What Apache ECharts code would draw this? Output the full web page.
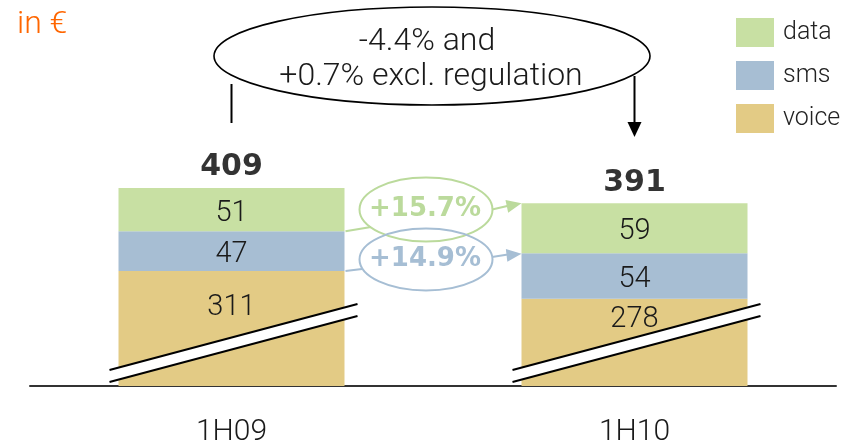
<!DOCTYPE html>
<html><head><meta charset="utf-8">
<script src="https://cdn.jsdelivr.net/npm/echarts@6/dist/echarts.min.js"></script>
<style>html,body{margin:0;padding:0;background:#fff}#c{width:850px;height:442px}</style>
</head><body><div id="c"></div>
<script>
// ---- data ----
const categories = ['1H09', '1H10'];
const voice = [311, 278];
const sms = [47, 54];
const dataRev = [51, 59];
const legendNames = ['data', 'sms', 'voice'];
const totals = categories.map((_, i) => voice[i] + sms[i] + dataRev[i]);
const totalChangeText = ['-4.4% and', '+0.7% excl. regulation'];
const dataChangeText = '+15.7%';
const smsChangeText = '+14.9%';
const unitText = 'in €';

// ---- styles ----
const FONT = 'Roboto';
const LIGHT = 300;
const TXT = '#1a1a1a';
const COL = { data: '#C8E0A3', sms: '#A7BED3', voice: '#E3CB85' };
const GREEN_ANN = '#BBDA9C';
const BLUE_ANN = '#A6BED4';
const Y_MIN = 175, Y_MAX = 500;
const BAR_W = 226;
const voiceLabelDistance = [22, 6];

const chart = echarts.init(document.getElementById('c'), null, { renderer: 'canvas' });

const segLabel = (pos, off) => ({
  show: true, position: pos, offset: off, fontFamily: FONT, fontWeight: LIGHT, fontSize: 29, color: TXT
});

chart.setOption({
  animation: false,
  title: {
    text: unitText, left: 17, top: 9, padding: 0,
    textStyle: { color: '#FF6600', fontFamily: FONT, fontWeight: LIGHT, fontSize: 32 }
  },
  legend: {
    data: legendNames, orient: 'vertical', left: 731, top: 13,
    itemWidth: 38, itemHeight: 29, itemGap: 14, icon: 'rect', selectedMode: false,
    textStyle: { fontFamily: FONT, fontWeight: LIGHT, fontSize: 25, color: '#222', padding: [0, 0, 0, 4] }
  },
  grid: { left: 30, right: 14, top: 111, bottom: 56, containLabel: false, outerBoundsMode: 'none' },
  xAxis: {
    type: 'category', data: categories,
    axisLine: { lineStyle: { color: '#333', width: 2 } },
    axisTick: { show: false },
    axisLabel: { margin: 31, fontFamily: FONT, fontWeight: LIGHT, fontSize: 30, color: TXT }
  },
  yAxis: { type: 'value', min: Y_MIN, max: Y_MAX, show: false, splitLine: { show: false } },
  series: [
    {
      name: 'voice', type: 'bar', stack: 'rev', barWidth: BAR_W,
      itemStyle: { color: COL.voice },
      label: segLabel('insideTop', [0, 0]),
      data: voice.map((v, i) => ({ value: v, label: { distance: voiceLabelDistance[i] } }))
    },
    {
      name: 'sms', type: 'bar', stack: 'rev', barWidth: BAR_W,
      itemStyle: { color: COL.sms }, label: segLabel('inside', [0, 4]), data: sms
    },
    {
      name: 'data', type: 'bar', stack: 'rev', barWidth: BAR_W,
      itemStyle: { color: COL.data }, label: segLabel('inside', [0, 4]), data: dataRev
    },
    {
      name: 'total', type: 'scatter', symbolSize: 1,
      itemStyle: { color: 'rgba(0,0,0,0)' },
      label: {
        show: true, position: 'top', distance: 5,
        fontFamily: 'DejaVu Sans', fontWeight: 'bold', fontSize: 30, color: '#000'
      },
      data: totals
    }
  ]
});

// ---- annotations anchored on the chart's own scales ----
function px(i, v) { return chart.convertToPixel({ xAxisIndex: 0, yAxisIndex: 0 }, [i, v]); }
function arrowHead(tip, from, len, wid, color) {
  const dx = tip[0] - from[0], dy = tip[1] - from[1];
  const d = Math.hypot(dx, dy), ux = dx / d, uy = dy / d;
  const bx = tip[0] - ux * len, by = tip[1] - uy * len;
  return {
    type: 'polygon', z: 100,
    shape: { points: [tip, [bx - uy * wid / 2, by + ux * wid / 2], [bx + uy * wid / 2, by - ux * wid / 2]] },
    style: { fill: color }
  };
}
function line(a, b, color, w) {
  return { type: 'line', z: 100, shape: { x1: a[0], y1: a[1], x2: b[0], y2: b[1] }, style: { stroke: color, lineWidth: w } };
}

const top0 = px(0, totals[0]), top1 = px(1, totals[1]);
const base0 = px(0, Y_MIN), base1 = px(1, Y_MIN);
const half = BAR_W / 2;
const g = [];

// big ellipse
const bigCx = (top0[0] + top1[0]) / 2 - 1;
g.push({ type: 'ellipse', z: 100, shape: { cx: bigCx, cy: 56, rx: 218, ry: 49 }, style: { fill: 'none', stroke: '#000', lineWidth: 1.6 } });
g.push({ type: 'text', z: 101, style: { text: totalChangeText[0], x: bigCx - 5, y: 42, align: 'center', verticalAlign: 'middle', font: LIGHT + ' 32px ' + FONT, fill: TXT } });
g.push({ type: 'text', z: 101, style: { text: totalChangeText[1], x: bigCx - 1, y: 77, align: 'center', verticalAlign: 'middle', font: LIGHT + ' 32px ' + FONT, fill: TXT } });
g.push(line([top0[0], 84], [top0[0], 123], '#000', 2));
g.push(line([top1[0], 76], [top1[0], 126], '#000', 2));
g.push(arrowHead([top1[0], 137], [top1[0], 76], 15, 14, '#000'));

// segment change ellipses
const barR0 = top0[0] + half, barL1 = top1[0] - half;
const dataBnd0 = px(0, voice[0] + sms[0])[1];
const smsBnd0 = px(0, voice[0])[1];
const dataMid1 = px(1, totals[1])[1];
const smsTop1 = px(1, voice[1] + sms[1])[1];
const ecx = (barR0 + barL1) / 2 - 7;
g.push({ type: 'ellipse', z: 100, shape: { cx: ecx, cy: 209.5, rx: 66.5, ry: 32 }, style: { fill: 'none', stroke: GREEN_ANN, lineWidth: 2 } });
g.push({ type: 'ellipse', z: 100, shape: { cx: ecx, cy: 259.5, rx: 66.5, ry: 31 }, style: { fill: 'none', stroke: BLUE_ANN, lineWidth: 2 } });
g.push({ type: 'text', z: 101, style: { text: dataChangeText, x: ecx - 1, y: 209, align: 'center', verticalAlign: 'middle', font: 'bold 26px "DejaVu Sans"', fill: GREEN_ANN } });
g.push({ type: 'text', z: 101, style: { text: smsChangeText, x: ecx - 1, y: 259, align: 'center', verticalAlign: 'middle', font: 'bold 26px "DejaVu Sans"', fill: BLUE_ANN } });
g.push(line([barR0 + 1, dataBnd0], [ecx - 55, 227], GREEN_ANN, 2));
g.push(line([barR0 + 1, smsBnd0], [ecx - 64, 269], BLUE_ANN, 2));
g.push(line([ecx + 66, 209.5], [barL1 - 12, dataMid1 + 2.3], GREEN_ANN, 2));
g.push(arrowHead([barL1, dataMid1], [ecx + 66, 209.5], 15, 13, GREEN_ANN));
g.push(line([ecx + 66, 257], [barL1 - 12, smsTop1 + 1.2], BLUE_ANN, 2));
g.push(arrowHead([barL1, smsTop1 + 0.5], [ecx + 66, 257], 15, 13, BLUE_ANN));

// axis-break marks on the truncated voice bars
[base0, base1].forEach((b) => {
  const L = b[0] - half - 9, R = b[0] + half + 13, B = b[1];
  g.push({ type: 'polygon', z: 100, shape: { points: [[L, B - 16], [R, B - 82], [R, B - 70], [L, B - 4]] }, style: { fill: '#fff' } });
  g.push(line([L, B - 16], [R, B - 82], '#000', 2));
  g.push(line([L, B - 4], [R, B - 70], '#000', 2));
});

chart.setOption({ graphic: g });
</script></body></html>
